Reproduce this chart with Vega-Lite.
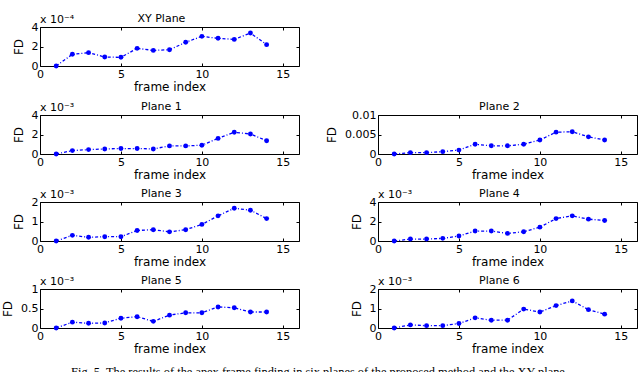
{
  "$schema": "https://vega.github.io/schema/vega-lite/v6.json",
  "padding": {"left": 1, "top": 12, "right": 0, "bottom": 0},
  "datasets": {
    "fd": [
      {"plane": "XY Plane", "frame": 1, "fd": 0},
      {"plane": "XY Plane", "frame": 2, "fd": 0.000120},
      {"plane": "XY Plane", "frame": 3, "fd": 0.000137},
      {"plane": "XY Plane", "frame": 4, "fd": 0.000092},
      {"plane": "XY Plane", "frame": 5, "fd": 0.000089},
      {"plane": "XY Plane", "frame": 6, "fd": 0.000181},
      {"plane": "XY Plane", "frame": 7, "fd": 0.000160},
      {"plane": "XY Plane", "frame": 8, "fd": 0.000167},
      {"plane": "XY Plane", "frame": 9, "fd": 0.000243},
      {"plane": "XY Plane", "frame": 10, "fd": 0.000304},
      {"plane": "XY Plane", "frame": 11, "fd": 0.000284},
      {"plane": "XY Plane", "frame": 12, "fd": 0.000273},
      {"plane": "XY Plane", "frame": 13, "fd": 0.000338},
      {"plane": "XY Plane", "frame": 14, "fd": 0.000219},
      {"plane": "Plane 1", "frame": 1, "fd": 0},
      {"plane": "Plane 1", "frame": 2, "fd": 0.00035},
      {"plane": "Plane 1", "frame": 3, "fd": 0.00045},
      {"plane": "Plane 1", "frame": 4, "fd": 0.00052},
      {"plane": "Plane 1", "frame": 5, "fd": 0.00056},
      {"plane": "Plane 1", "frame": 6, "fd": 0.00056},
      {"plane": "Plane 1", "frame": 7, "fd": 0.00052},
      {"plane": "Plane 1", "frame": 8, "fd": 0.00083},
      {"plane": "Plane 1", "frame": 9, "fd": 0.00083},
      {"plane": "Plane 1", "frame": 10, "fd": 0.00090},
      {"plane": "Plane 1", "frame": 11, "fd": 0.00160},
      {"plane": "Plane 1", "frame": 12, "fd": 0.00223},
      {"plane": "Plane 1", "frame": 13, "fd": 0.00205},
      {"plane": "Plane 1", "frame": 14, "fd": 0.00136},
      {"plane": "Plane 2", "frame": 1, "fd": 0},
      {"plane": "Plane 2", "frame": 2, "fd": 0.00035},
      {"plane": "Plane 2", "frame": 3, "fd": 0.00035},
      {"plane": "Plane 2", "frame": 4, "fd": 0.0006},
      {"plane": "Plane 2", "frame": 5, "fd": 0.0010},
      {"plane": "Plane 2", "frame": 6, "fd": 0.0025},
      {"plane": "Plane 2", "frame": 7, "fd": 0.0021},
      {"plane": "Plane 2", "frame": 8, "fd": 0.0021},
      {"plane": "Plane 2", "frame": 9, "fd": 0.0025},
      {"plane": "Plane 2", "frame": 10, "fd": 0.0036},
      {"plane": "Plane 2", "frame": 11, "fd": 0.0056},
      {"plane": "Plane 2", "frame": 12, "fd": 0.0057},
      {"plane": "Plane 2", "frame": 13, "fd": 0.0044},
      {"plane": "Plane 2", "frame": 14, "fd": 0.0036},
      {"plane": "Plane 3", "frame": 1, "fd": 0},
      {"plane": "Plane 3", "frame": 2, "fd": 0.00029},
      {"plane": "Plane 3", "frame": 3, "fd": 0.00019},
      {"plane": "Plane 3", "frame": 4, "fd": 0.00022},
      {"plane": "Plane 3", "frame": 5, "fd": 0.00022},
      {"plane": "Plane 3", "frame": 6, "fd": 0.00054},
      {"plane": "Plane 3", "frame": 7, "fd": 0.00058},
      {"plane": "Plane 3", "frame": 8, "fd": 0.00047},
      {"plane": "Plane 3", "frame": 9, "fd": 0.00058},
      {"plane": "Plane 3", "frame": 10, "fd": 0.00085},
      {"plane": "Plane 3", "frame": 11, "fd": 0.00129},
      {"plane": "Plane 3", "frame": 12, "fd": 0.00168},
      {"plane": "Plane 3", "frame": 13, "fd": 0.00158},
      {"plane": "Plane 3", "frame": 14, "fd": 0.00115},
      {"plane": "Plane 4", "frame": 1, "fd": 0},
      {"plane": "Plane 4", "frame": 2, "fd": 0.00020},
      {"plane": "Plane 4", "frame": 3, "fd": 0.00020},
      {"plane": "Plane 4", "frame": 4, "fd": 0.00027},
      {"plane": "Plane 4", "frame": 5, "fd": 0.00051},
      {"plane": "Plane 4", "frame": 6, "fd": 0.00102},
      {"plane": "Plane 4", "frame": 7, "fd": 0.00102},
      {"plane": "Plane 4", "frame": 8, "fd": 0.00078},
      {"plane": "Plane 4", "frame": 9, "fd": 0.00095},
      {"plane": "Plane 4", "frame": 10, "fd": 0.00142},
      {"plane": "Plane 4", "frame": 11, "fd": 0.00230},
      {"plane": "Plane 4", "frame": 12, "fd": 0.00258},
      {"plane": "Plane 4", "frame": 13, "fd": 0.00224},
      {"plane": "Plane 4", "frame": 14, "fd": 0.00210},
      {"plane": "Plane 5", "frame": 1, "fd": 0},
      {"plane": "Plane 5", "frame": 2, "fd": 0.00015},
      {"plane": "Plane 5", "frame": 3, "fd": 0.00012},
      {"plane": "Plane 5", "frame": 4, "fd": 0.00013},
      {"plane": "Plane 5", "frame": 5, "fd": 0.00025},
      {"plane": "Plane 5", "frame": 6, "fd": 0.00029},
      {"plane": "Plane 5", "frame": 7, "fd": 0.00017},
      {"plane": "Plane 5", "frame": 8, "fd": 0.00033},
      {"plane": "Plane 5", "frame": 9, "fd": 0.00039},
      {"plane": "Plane 5", "frame": 10, "fd": 0.00039},
      {"plane": "Plane 5", "frame": 11, "fd": 0.00054},
      {"plane": "Plane 5", "frame": 12, "fd": 0.00052},
      {"plane": "Plane 5", "frame": 13, "fd": 0.00041},
      {"plane": "Plane 5", "frame": 14, "fd": 0.00041},
      {"plane": "Plane 6", "frame": 1, "fd": 0},
      {"plane": "Plane 6", "frame": 2, "fd": 0.00016},
      {"plane": "Plane 6", "frame": 3, "fd": 0.00012},
      {"plane": "Plane 6", "frame": 4, "fd": 0.00012},
      {"plane": "Plane 6", "frame": 5, "fd": 0.00023},
      {"plane": "Plane 6", "frame": 6, "fd": 0.00052},
      {"plane": "Plane 6", "frame": 7, "fd": 0.00040},
      {"plane": "Plane 6", "frame": 8, "fd": 0.00040},
      {"plane": "Plane 6", "frame": 9, "fd": 0.00097},
      {"plane": "Plane 6", "frame": 10, "fd": 0.00082},
      {"plane": "Plane 6", "frame": 11, "fd": 0.00115},
      {"plane": "Plane 6", "frame": 12, "fd": 0.00139},
      {"plane": "Plane 6", "frame": 13, "fd": 0.00094},
      {"plane": "Plane 6", "frame": 14, "fd": 0.00071}
    ]
  },
  "title": {"text": "Fig. 5.  The results of the apex frame finding in six planes of the proposed method and the XY plane.", "orient": "bottom", "anchor": "middle", "frame": "bounds", "font": "Liberation Serif", "fontSize": 12.4, "fontWeight": "normal", "offset": 11, "color": "black"},
  "bounds": "flush",
  "spacing": 49,
  "vconcat": [
    {
      "width": 259, "height": 39,
      "data": {"name": "fd"},
      "transform": [{"filter": "datum.plane === 'XY Plane'"}],
      "layer": [
        {"mark": {"type": "line", "color": "#0000ff", "strokeDash": [3, 2, 1, 2], "strokeWidth": 1.3},
         "encoding": {
           "x": {"field": "frame", "type": "quantitative", "scale": {"domain": [0, 15]}, "axis": {"values": [0, 5, 10, 15], "title": "frame index"}},
           "y": {"field": "fd", "type": "quantitative", "scale": {"domain": [0, 0.0004]}, "axis": {"values": [0, 0.0002, 0.0004], "title": "FD", "labelExpr": "format(datum.value*1e4,'~g')"}}}},
        {"mark": {"type": "point", "filled": true, "color": "#0000ff", "size": 24, "opacity": 1},
         "encoding": {
           "x": {"field": "frame", "type": "quantitative", "axis": {"values": [0, 5, 10, 15], "labels": false, "title": null, "orient": "top"}},
           "y": {"field": "fd", "type": "quantitative", "axis": {"values": [0, 0.0002, 0.0004], "labels": false, "title": null, "orient": "right"}}}},
        {"transform": [{"filter": "datum.frame === 1"}],
         "mark": {"type": "text", "text": "x 10⁻⁴", "align": "left", "baseline": "alphabetic", "dy": -4, "fontSize": 11},
         "encoding": {"x": {"datum": 0, "type": "quantitative", "axis": null}, "y": {"datum": 0.0004, "type": "quantitative", "axis": null}}},
        {"transform": [{"filter": "datum.frame === 1"}],
         "mark": {"type": "text", "align": "center", "baseline": "alphabetic", "dy": -5, "fontSize": 11},
         "encoding": {"text": {"field": "plane"}, "x": {"datum": 7.5, "type": "quantitative", "axis": null}, "y": {"datum": 0.0004, "type": "quantitative", "axis": null}}}
      ],
      "resolve": {"axis": {"x": "independent", "y": "independent"}}
    },
    {
      "bounds": "flush", "spacing": 87,
      "vconcat": [
        {
          "bounds": "flush", "spacing": 79,
          "hconcat": [
            {
              "width": 259, "height": 39,
              "data": {"name": "fd"},
              "transform": [{"filter": "datum.plane === 'Plane 1'"}],
              "layer": [
                {"mark": {"type": "line", "color": "#0000ff", "strokeDash": [3, 2, 1, 2], "strokeWidth": 1.3},
                 "encoding": {
                   "x": {"field": "frame", "type": "quantitative", "scale": {"domain": [0, 15]}, "axis": {"values": [0, 5, 10, 15], "title": "frame index"}},
                   "y": {"field": "fd", "type": "quantitative", "scale": {"domain": [0, 0.004]}, "axis": {"values": [0, 0.002, 0.004], "title": "FD", "labelExpr": "format(datum.value*1e3,'~g')"}}}},
                {"mark": {"type": "point", "filled": true, "color": "#0000ff", "size": 24, "opacity": 1},
                 "encoding": {
                   "x": {"field": "frame", "type": "quantitative", "axis": {"values": [0, 5, 10, 15], "labels": false, "title": null, "orient": "top"}},
                   "y": {"field": "fd", "type": "quantitative", "axis": {"values": [0, 0.002, 0.004], "labels": false, "title": null, "orient": "right"}}}},
                {"transform": [{"filter": "datum.frame === 1"}],
                 "mark": {"type": "text", "text": "x 10⁻³", "align": "left", "baseline": "alphabetic", "dy": -4, "fontSize": 11},
                 "encoding": {"x": {"datum": 0, "type": "quantitative", "axis": null}, "y": {"datum": 0.004, "type": "quantitative", "axis": null}}},
                {"transform": [{"filter": "datum.frame === 1"}],
                 "mark": {"type": "text", "align": "center", "baseline": "alphabetic", "dy": -5, "fontSize": 11},
                 "encoding": {"text": {"field": "plane"}, "x": {"datum": 7.5, "type": "quantitative", "axis": null}, "y": {"datum": 0.004, "type": "quantitative", "axis": null}}}
              ],
              "resolve": {"axis": {"x": "independent", "y": "independent"}}
            },
            {
              "width": 259, "height": 39,
              "data": {"name": "fd"},
              "transform": [{"filter": "datum.plane === 'Plane 2'"}],
              "layer": [
                {"mark": {"type": "line", "color": "#0000ff", "strokeDash": [3, 2, 1, 2], "strokeWidth": 1.3},
                 "encoding": {
                   "x": {"field": "frame", "type": "quantitative", "scale": {"domain": [0, 15]}, "axis": {"values": [0, 5, 10, 15], "title": "frame index"}},
                   "y": {"field": "fd", "type": "quantitative", "scale": {"domain": [0, 0.01]}, "axis": {"values": [0, 0.005, 0.01], "title": "FD", "format": "~g"}}}},
                {"mark": {"type": "point", "filled": true, "color": "#0000ff", "size": 24, "opacity": 1},
                 "encoding": {
                   "x": {"field": "frame", "type": "quantitative", "axis": {"values": [0, 5, 10, 15], "labels": false, "title": null, "orient": "top"}},
                   "y": {"field": "fd", "type": "quantitative", "axis": {"values": [0, 0.005, 0.01], "labels": false, "title": null, "orient": "right"}}}},
                {"transform": [{"filter": "datum.frame === 1"}],
                 "mark": {"type": "text", "align": "center", "baseline": "alphabetic", "dy": -5, "fontSize": 11},
                 "encoding": {"text": {"field": "plane"}, "x": {"datum": 7.5, "type": "quantitative", "axis": null}, "y": {"datum": 0.01, "type": "quantitative", "axis": null}}}
              ],
              "resolve": {"axis": {"x": "independent", "y": "independent"}}
            }
          ]
        },
        {
          "bounds": "flush", "spacing": 79,
          "hconcat": [
            {
              "width": 259, "height": 39,
              "data": {"name": "fd"},
              "transform": [{"filter": "datum.plane === 'Plane 3'"}],
              "layer": [
                {"mark": {"type": "line", "color": "#0000ff", "strokeDash": [3, 2, 1, 2], "strokeWidth": 1.3},
                 "encoding": {
                   "x": {"field": "frame", "type": "quantitative", "scale": {"domain": [0, 15]}, "axis": {"values": [0, 5, 10, 15], "title": "frame index"}},
                   "y": {"field": "fd", "type": "quantitative", "scale": {"domain": [0, 0.002]}, "axis": {"values": [0, 0.001, 0.002], "title": "FD", "labelExpr": "format(datum.value*1e3,'~g')"}}}},
                {"mark": {"type": "point", "filled": true, "color": "#0000ff", "size": 24, "opacity": 1},
                 "encoding": {
                   "x": {"field": "frame", "type": "quantitative", "axis": {"values": [0, 5, 10, 15], "labels": false, "title": null, "orient": "top"}},
                   "y": {"field": "fd", "type": "quantitative", "axis": {"values": [0, 0.001, 0.002], "labels": false, "title": null, "orient": "right"}}}},
                {"transform": [{"filter": "datum.frame === 1"}],
                 "mark": {"type": "text", "text": "x 10⁻³", "align": "left", "baseline": "alphabetic", "dy": -4, "fontSize": 11},
                 "encoding": {"x": {"datum": 0, "type": "quantitative", "axis": null}, "y": {"datum": 0.002, "type": "quantitative", "axis": null}}},
                {"transform": [{"filter": "datum.frame === 1"}],
                 "mark": {"type": "text", "align": "center", "baseline": "alphabetic", "dy": -5, "fontSize": 11},
                 "encoding": {"text": {"field": "plane"}, "x": {"datum": 7.5, "type": "quantitative", "axis": null}, "y": {"datum": 0.002, "type": "quantitative", "axis": null}}}
              ],
              "resolve": {"axis": {"x": "independent", "y": "independent"}}
            },
            {
              "width": 259, "height": 39,
              "data": {"name": "fd"},
              "transform": [{"filter": "datum.plane === 'Plane 4'"}],
              "layer": [
                {"mark": {"type": "line", "color": "#0000ff", "strokeDash": [3, 2, 1, 2], "strokeWidth": 1.3},
                 "encoding": {
                   "x": {"field": "frame", "type": "quantitative", "scale": {"domain": [0, 15]}, "axis": {"values": [0, 5, 10, 15], "title": "frame index"}},
                   "y": {"field": "fd", "type": "quantitative", "scale": {"domain": [0, 0.004]}, "axis": {"values": [0, 0.002, 0.004], "title": "FD", "labelExpr": "format(datum.value*1e3,'~g')"}}}},
                {"mark": {"type": "point", "filled": true, "color": "#0000ff", "size": 24, "opacity": 1},
                 "encoding": {
                   "x": {"field": "frame", "type": "quantitative", "axis": {"values": [0, 5, 10, 15], "labels": false, "title": null, "orient": "top"}},
                   "y": {"field": "fd", "type": "quantitative", "axis": {"values": [0, 0.002, 0.004], "labels": false, "title": null, "orient": "right"}}}},
                {"transform": [{"filter": "datum.frame === 1"}],
                 "mark": {"type": "text", "text": "x 10⁻³", "align": "left", "baseline": "alphabetic", "dy": -4, "fontSize": 11},
                 "encoding": {"x": {"datum": 0, "type": "quantitative", "axis": null}, "y": {"datum": 0.004, "type": "quantitative", "axis": null}}},
                {"transform": [{"filter": "datum.frame === 1"}],
                 "mark": {"type": "text", "align": "center", "baseline": "alphabetic", "dy": -5, "fontSize": 11},
                 "encoding": {"text": {"field": "plane"}, "x": {"datum": 7.5, "type": "quantitative", "axis": null}, "y": {"datum": 0.004, "type": "quantitative", "axis": null}}}
              ],
              "resolve": {"axis": {"x": "independent", "y": "independent"}}
            }
          ]
        },
        {
          "bounds": "flush", "spacing": 79,
          "hconcat": [
            {
              "width": 259, "height": 39,
              "data": {"name": "fd"},
              "transform": [{"filter": "datum.plane === 'Plane 5'"}],
              "layer": [
                {"mark": {"type": "line", "color": "#0000ff", "strokeDash": [3, 2, 1, 2], "strokeWidth": 1.3},
                 "encoding": {
                   "x": {"field": "frame", "type": "quantitative", "scale": {"domain": [0, 15]}, "axis": {"values": [0, 5, 10, 15], "title": "frame index"}},
                   "y": {"field": "fd", "type": "quantitative", "scale": {"domain": [0, 0.001]}, "axis": {"values": [0, 0.0005, 0.001], "title": "FD", "labelExpr": "format(datum.value*1e3,'~g')"}}}},
                {"mark": {"type": "point", "filled": true, "color": "#0000ff", "size": 24, "opacity": 1},
                 "encoding": {
                   "x": {"field": "frame", "type": "quantitative", "axis": {"values": [0, 5, 10, 15], "labels": false, "title": null, "orient": "top"}},
                   "y": {"field": "fd", "type": "quantitative", "axis": {"values": [0, 0.0005, 0.001], "labels": false, "title": null, "orient": "right"}}}},
                {"transform": [{"filter": "datum.frame === 1"}],
                 "mark": {"type": "text", "text": "x 10⁻³", "align": "left", "baseline": "alphabetic", "dy": -4, "fontSize": 11},
                 "encoding": {"x": {"datum": 0, "type": "quantitative", "axis": null}, "y": {"datum": 0.001, "type": "quantitative", "axis": null}}},
                {"transform": [{"filter": "datum.frame === 1"}],
                 "mark": {"type": "text", "align": "center", "baseline": "alphabetic", "dy": -5, "fontSize": 11},
                 "encoding": {"text": {"field": "plane"}, "x": {"datum": 7.5, "type": "quantitative", "axis": null}, "y": {"datum": 0.001, "type": "quantitative", "axis": null}}}
              ],
              "resolve": {"axis": {"x": "independent", "y": "independent"}}
            },
            {
              "width": 259, "height": 39,
              "data": {"name": "fd"},
              "transform": [{"filter": "datum.plane === 'Plane 6'"}],
              "layer": [
                {"mark": {"type": "line", "color": "#0000ff", "strokeDash": [3, 2, 1, 2], "strokeWidth": 1.3},
                 "encoding": {
                   "x": {"field": "frame", "type": "quantitative", "scale": {"domain": [0, 15]}, "axis": {"values": [0, 5, 10, 15], "title": "frame index"}},
                   "y": {"field": "fd", "type": "quantitative", "scale": {"domain": [0, 0.002]}, "axis": {"values": [0, 0.001, 0.002], "title": "FD", "labelExpr": "format(datum.value*1e3,'~g')"}}}},
                {"mark": {"type": "point", "filled": true, "color": "#0000ff", "size": 24, "opacity": 1},
                 "encoding": {
                   "x": {"field": "frame", "type": "quantitative", "axis": {"values": [0, 5, 10, 15], "labels": false, "title": null, "orient": "top"}},
                   "y": {"field": "fd", "type": "quantitative", "axis": {"values": [0, 0.001, 0.002], "labels": false, "title": null, "orient": "right"}}}},
                {"transform": [{"filter": "datum.frame === 1"}],
                 "mark": {"type": "text", "text": "x 10⁻³", "align": "left", "baseline": "alphabetic", "dy": -4, "fontSize": 11},
                 "encoding": {"x": {"datum": 0, "type": "quantitative", "axis": null}, "y": {"datum": 0.002, "type": "quantitative", "axis": null}}},
                {"transform": [{"filter": "datum.frame === 1"}],
                 "mark": {"type": "text", "align": "center", "baseline": "alphabetic", "dy": -5, "fontSize": 11},
                 "encoding": {"text": {"field": "plane"}, "x": {"datum": 7.5, "type": "quantitative", "axis": null}, "y": {"datum": 0.002, "type": "quantitative", "axis": null}}}
              ],
              "resolve": {"axis": {"x": "independent", "y": "independent"}}
            }
          ]
        }
      ]
    }
  ],
  "config": {
    "font": "DejaVu Sans",
    "view": {"stroke": "black", "strokeWidth": 1},
    "axis": {"domain": false, "grid": false, "tickSize": -3, "tickColor": "black", "labelPadding": 5, "labelFontSize": 11, "labelColor": "black", "labelFont": "DejaVu Sans", "titleFont": "DejaVu Sans", "titleFontSize": 12, "titleFontWeight": "normal", "titleColor": "black", "labelFlush": false, "labelOverlap": false, "titlePadding": 2},
    "axisY": {"titlePadding": 6},
    "text": {"font": "DejaVu Sans", "color": "black"}
  }
}
